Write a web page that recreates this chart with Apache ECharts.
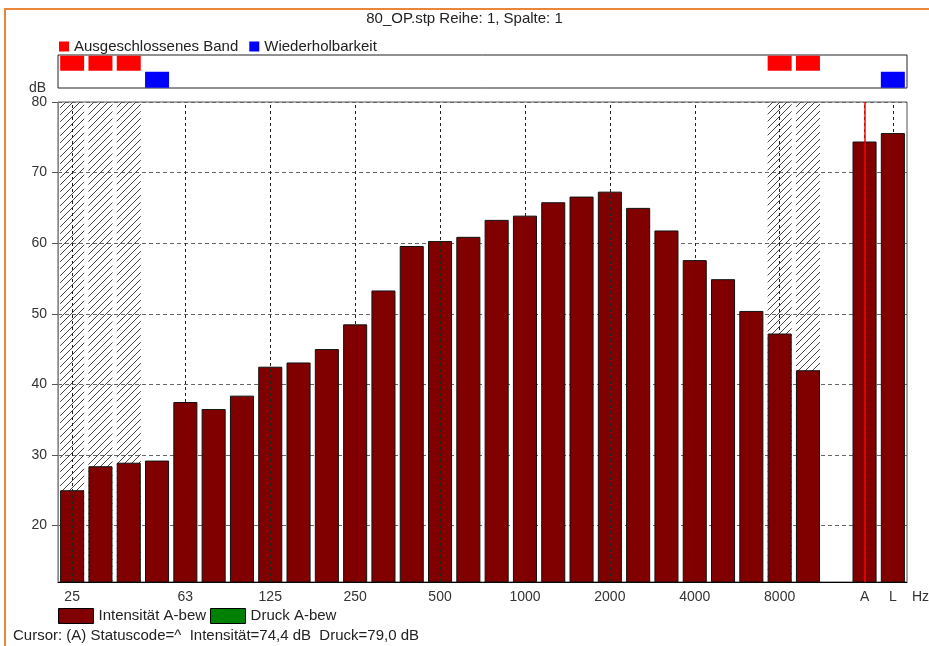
<!DOCTYPE html>
<html>
<head>
<meta charset="utf-8">
<script src="https://cdn.jsdelivr.net/npm/echarts@6/dist/echarts.min.js"></script>
<style>
    html, body {margin:0; padding:0; background:#fff;}
    #chart {width:929px; height:646px;}
</style>
</head>
<body>
<div id="chart"></div>
<script>
(function(){
    // terzbaender + leerer platz + A / L
    var bands = ['25','31.5','40','50','63','80','100','125','160','200','250','315','400','500','630',
        '800','1000','1250','1600','2000','2500','3150','4000','5000','6300','8000','10000','','A','L'];
    var intensity = [25.0, 28.4, 28.9, 29.2, 37.5, 36.5, 38.4, 42.5, 43.1, 45.0, 48.5, 53.3, 59.6, 60.3, 60.9,
        63.3, 63.9, 65.8, 66.6, 67.3, 65.0, 61.8, 57.6, 54.9, 50.4, 47.2, 42.0, null, 74.4, 75.6];
    var pressure = [];
    var excludedBands = ['25','31.5','40','8000','10000'];
    var repeatBands = ['50','L'];
    var tickLabels = ['25','63','125','250','500','1000','2000','4000','8000','A','L'];
    var dbTicks = [20, 30, 40, 50, 60, 70, 80];
    var cursorBand = 'A';

    var font = 'Arial, "Liberation Sans", sans-serif';

    // schraffur
    var hatch = document.createElement('canvas');
    hatch.width = 7; hatch.height = 7;
    var ctx = hatch.getContext('2d');
    ctx.strokeStyle = '#444';
    ctx.lineWidth = 1;
    ctx.beginPath();
    ctx.moveTo(-1, 8); ctx.lineTo(8, -1);
    ctx.stroke();

    function isLabel(i, v){ return tickLabels.indexOf(v) >= 0; }

    var myChart = echarts.init(document.getElementById('chart'));
    myChart.setOption({
        animation: false,
        textStyle: {fontFamily: font},
        title: {
            text: '80_OP.stp Reihe: 1, Spalte: 1',
            left: 'center', top: 11, padding: 0,
            textStyle: {fontSize: 15, fontWeight: 'normal', color: '#222'}
        },
        legend: [{
            data: ['Ausgeschlossenes Band', 'Wiederholbarkeit'],
            left: 59, top: 39, padding: 0,
            icon: 'rect', itemWidth: 10, itemHeight: 10, itemGap: 11,
            textStyle: {fontSize: 15, color: '#222'}
        }, {
            data: ['Intensität A-bew', 'Druck A-bew'],
            left: 58, top: 608, padding: 0,
            icon: 'rect', itemWidth: 35, itemHeight: 15, itemGap: 4,
            itemStyle: {borderColor: '#000', borderWidth: 1},
            textStyle: {fontSize: 15, color: '#222'}
        }],
        grid: [
            {left: 58, right: 22, top: 102, bottom: 64, outerBoundsMode: 'none',
                show: true, borderColor: '#555', borderWidth: 1},
            {left: 58, right: 22, top: 55, height: 33, outerBoundsMode: 'none',
                show: true, borderColor: '#222', borderWidth: 1}
        ],
        xAxis: [{
            type: 'category', gridIndex: 0, data: bands,
            name: 'Hz', nameLocation: 'end', nameGap: 5,
            nameTextStyle: {fontSize: 14, color: '#333', verticalAlign: 'top', padding: [8, 0, 0, 0]},
            axisLine: {lineStyle: {color: '#000', width: 1}},
            axisTick: {alignWithLabel: true, interval: isLabel, length: 3, lineStyle: {color: '#444'}},
            axisLabel: {interval: isLabel, fontSize: 14, color: '#333', margin: 8},
            splitLine: {show: false}
        }, {
            type: 'category', gridIndex: 1, data: bands,
            axisLine: {show: false}, axisTick: {show: false}, axisLabel: {show: false}
        }],
        yAxis: [{
            type: 'value', gridIndex: 0, min: 12, max: 80,
            name: 'dB', nameLocation: 'end', nameGap: 2,
            nameTextStyle: {fontSize: 14, color: '#333', align: 'right', padding: [0, 12, 0, 0]},
            axisLine: {show: true, lineStyle: {color: '#888'}},
            axisTick: {show: true, customValues: dbTicks, length: 6, lineStyle: {color: '#555'}},
            axisLabel: {customValues: dbTicks, fontSize: 14, color: '#333', margin: 11},
            splitLine: {show: true, lineStyle: {color: '#666', type: [4, 3], width: 1}}
        }, {
            type: 'value', gridIndex: 1, min: 0, max: 2, show: false, splitLine: {show: false}
        }],
        graphic: [{
            type: 'polyline',
            shape: {points: [[5, 646], [5, 9], [929, 9]]},
            style: {stroke: '#E8873A', lineWidth: 2, fill: null}
        }, {
            type: 'text', left: 13, top: 628,
            style: {text: 'Cursor: (A) Statuscode=^  Intensität=74,4 dB  Druck=79,0 dB',
                font: '15px ' + font, fill: '#222'}
        }],
        series: [{
            name: 'Schraffur', type: 'bar', xAxisIndex: 0, yAxisIndex: 0,
            barCategoryGap: '15%', barGap: '-100%', silent: true,
            itemStyle: {color: {image: hatch, repeat: 'repeat'}},
            data: bands.map(function(b){ return excludedBands.indexOf(b) >= 0 ? 80 : null; }),
            // senkrechte gitterlinien an den beschrifteten baendern
            markLine: {
                silent: true, symbol: ['none', 'none'], label: {show: false},
                lineStyle: {color: '#222', width: 1, type: [3, 3]},
                data: tickLabels.map(function(l){ return {xAxis: l}; })
            }
        }, {
            name: 'Intensität A-bew', type: 'bar', xAxisIndex: 0, yAxisIndex: 0,
            barCategoryGap: '15%', barGap: '-100%',
            itemStyle: {color: '#800000', borderColor: '#111', borderWidth: 1},
            data: intensity,
            markLine: {
                silent: true, symbol: ['none', 'none'], label: {show: false},
                lineStyle: {color: '#ff0000', width: 1.5, type: 'solid'},
                data: [{xAxis: cursorBand}]
            }
        }, {
            name: 'Druck A-bew', type: 'bar', xAxisIndex: 0, yAxisIndex: 0,
            barGap: '-100%',
            itemStyle: {color: '#008000'},
            data: pressure
        }, {
            name: 'Ausgeschlossenes Band', type: 'scatter', xAxisIndex: 1, yAxisIndex: 1,
            symbol: 'rect', symbolSize: [24, 15],
            itemStyle: {color: '#ff0000', opacity: 1},
            data: excludedBands.map(function(b){ return [b, 1.5]; })
        }, {
            name: 'Wiederholbarkeit', type: 'scatter', xAxisIndex: 1, yAxisIndex: 1,
            symbol: 'rect', symbolSize: [24, 16],
            itemStyle: {color: '#0000ff', opacity: 1},
            data: repeatBands.map(function(b){ return [b, 0.5]; })
        }]
    });
}());
</script>
</body>
</html>
